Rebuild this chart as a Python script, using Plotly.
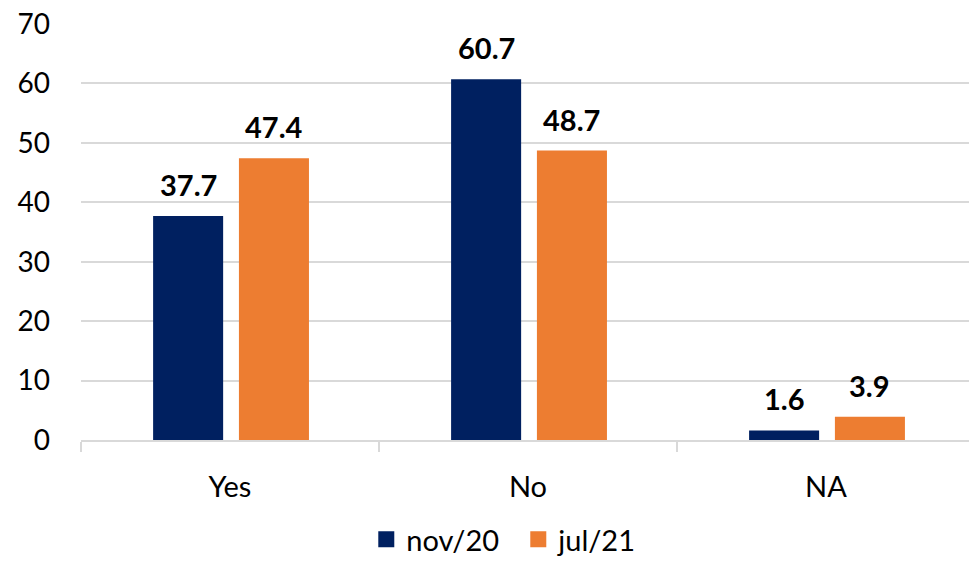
import plotly.graph_objects as go

categories = ["Yes", "No", "NA"]
nov20 = [37.7, 60.7, 1.6]
jul21 = [47.4, 48.7, 3.9]
series_names = ["nov/20", "jul/21"]
colors = ["#002060", "#ED7D31"]
y_ticks = [0, 10, 20, 30, 40, 50, 60, 70]

FONT = "Lato"
bar_width = 0.235
offsets = [-0.258, 0.030]

fig = go.Figure()
for name, vals, col, off in zip(series_names, [nov20, jul21], colors, offsets):
    fig.add_trace(go.Bar(
        x=categories, y=vals, name=name, marker=dict(color=col, line=dict(width=0)),
        width=bar_width, offset=off, showlegend=False,
    ))
    for i, v in enumerate(vals):
        fig.add_annotation(
            x=i + off + bar_width / 2, y=v, text=f"<b>{v}</b>", showarrow=False,
            yanchor="bottom", yshift=12, font=dict(family=FONT, size=29, color="#000000"),
        )
# legend entries with larger square swatches
for name, col in zip(series_names, colors):
    fig.add_trace(go.Scatter(
        x=[None], y=[None], mode="markers", name=name,
        marker=dict(symbol="square", size=19, color=col),
    ))

fig.update_layout(
    width=969, height=565,
    margin=dict(l=81, r=0, t=24, b=125),
    paper_bgcolor="white", plot_bgcolor="white",
    barmode="overlay",
    showlegend=True,
    legend=dict(orientation="h", xref="container", yref="container", x=0.378, xanchor="left",
                y=-0.024, yanchor="bottom", font=dict(family=FONT, size=29, color="#000000"),
                itemwidth=30, traceorder="normal", entrywidth=107, entrywidthmode="pixels"),
    font=dict(family=FONT, size=28, color="#000000"),
)
fig.update_xaxes(
    type="category", range=[-0.5, 2.48], showline=True, linecolor="#d9d9d9", linewidth=1.5,
    ticks="outside", tickson="boundaries", ticklen=10, tickcolor="#d9d9d9", tickwidth=1.5,
    showgrid=False, tickfont=dict(family=FONT, size=29, color="#000000"), ticklabelstandoff=20,
)
fig.update_yaxes(
    range=[0, 70], tickvals=y_ticks, showgrid=True, gridcolor="#d9d9d9", gridwidth=1.5,
    showline=False, zeroline=False, ticks="", tickfont=dict(family=FONT, size=28, color="#000000"),
    ticklabelstandoff=30,
)

fig.write_html("out.html")
